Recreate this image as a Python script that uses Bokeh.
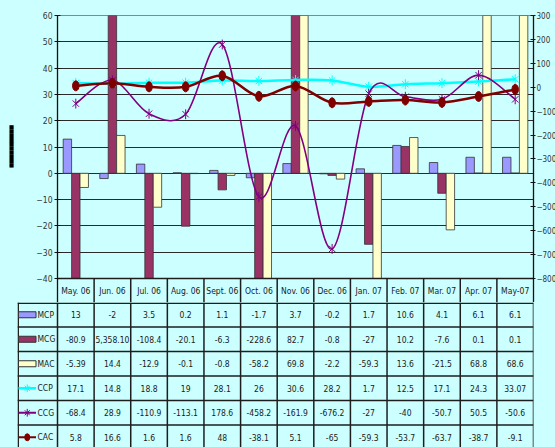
import numpy as np
from bokeh.plotting import figure
from bokeh.models import Range1d, LinearAxis, FixedTicker
from bokeh.layouts import column
from bokeh.embed import file_html
from bokeh.resources import INLINE
from bokeh.core.properties import value

# ---------------- data ----------------
categories = ["May. 06", "Jun. 06", "Jul. 06", "Aug. 06", "Sept. 06", "Oct. 06", "Nov. 06",
              "Dec. 06", "Jan. 07", "Feb. 07", "Mar. 07", "Apr. 07", "May-07"]
mcp = [13, -2, 3.5, 0.2, 1.1, -1.7, 3.7, -0.2, 1.7, 10.6, 4.1, 6.1, 6.1]
mcg = [-80.9, 5358.10, -108.4, -20.1, -6.3, -228.6, 82.7, -0.8, -27, 10.2, -7.6, 0.1, 0.1]
mac = [-5.39, 14.4, -12.9, -0.1, -0.8, -58.2, 69.8, -2.2, -59.3, 13.6, -21.5, 68.8, 68.6]
ccp = [17.1, 14.8, 18.8, 19, 28.1, 26, 30.6, 28.2, 1.7, 12.5, 17.1, 24.3, 33.07]
ccg = [-68.4, 28.9, -110.9, -113.1, 178.6, -458.2, -161.9, -676.2, -27, -40, -50.7, 50.5, -50.6]
cac = [5.8, 16.6, 1.6, 1.6, 48, -38.1, 5.1, -65, -59.3, -53.7, -63.7, -38.7, -9.1]
series_names = ["MCP", "MCG", "MAC", "CCP", "CCG", "CAC"]
left_ticks = list(range(-40, 61, 10))
right_ticks = list(range(-800, 301, 100))

# ---------------- style ----------------
BG = "#CCFFFF"
FONT = "DejaVu Sans Condensed"
C_MCP, C_MCG, C_MAC = "#9999FF", "#993366", "#FFFFCC"
C_CCP, C_CCG, C_CAC = "#00FFFF", "#800080", "#800000"
LC = "#1e1e1e"
n = len(categories)
xc = np.arange(n) + 0.5
BW = 0.23
COLW = 476 / n
PLOT_H = 263          # height of the value area
HDR = 24              # height of the category header row
L_PPU = PLOT_H / (left_ticks[-1] - left_ticks[0])
R_PPU = PLOT_H / (right_ticks[-1] - right_ticks[0])
LMIN = left_ticks[0] - HDR / L_PPU
RMIN = right_ticks[0] - HDR / R_PPU

p = figure(frame_width=476, frame_height=PLOT_H + HDR, x_range=Range1d(0, n),
           y_range=Range1d(LMIN, left_ticks[-1]),
           output_backend="svg", toolbar_location=None, x_axis_location=None,
           min_border_left=57, min_border_top=15, min_border_bottom=0, min_border_right=5,
           background_fill_color=BG, border_fill_color=BG, outline_line_color="#888888",
           frame_align=False)
p.extra_y_ranges = {"right": Range1d(RMIN, right_ticks[-1])}
p.xgrid.visible = False
p.ygrid.ticker = FixedTicker(ticks=left_ticks[1:-1])
p.ygrid.grid_line_color = "#2a2a2a"
p.ygrid.grid_line_width = 1

def style_axis(ax, size, out, standoff):
    ax.axis_line_color = "#111111"
    ax.axis_line_width = 1.3
    ax.major_tick_line_color = "#111111"
    ax.major_tick_in = 3
    ax.major_tick_out = out
    ax.minor_tick_line_color = None
    ax.major_label_text_font = FONT
    ax.major_label_text_font_size = size
    ax.major_label_text_color = "#333333"
    ax.major_label_standoff = standoff

p.yaxis.ticker = FixedTicker(ticks=left_ticks)
style_axis(p.yaxis[0], "8.5px", 3, 2)
# the dark vertical mark left of the value axis (rotated axis title)
p.yaxis.axis_label = "\u00a0" * 6 + "\u2580" * 10
p.yaxis.axis_label_text_font = "DejaVu Sans Mono"
p.yaxis.axis_label_text_font_size = "7px"
p.yaxis.axis_label_text_color = "black"
p.yaxis.axis_label_standoff = 15
rax = LinearAxis(y_range_name="right", ticker=FixedTicker(ticks=right_ticks))
style_axis(rax, "8px", 2, 1)
p.add_layout(rax, "right")

# bars
for vals, off, col in [(mcp, -BW, C_MCP), (mcg, 0, C_MCG), (mac, BW, C_MAC)]:
    p.vbar(x=xc + off, top=vals, bottom=0, width=BW, fill_color=col,
           line_color="#333333", line_width=0.8)

# smoothed lines (Catmull-Rom Bezier through the data points)
def smooth(ys):
    ys = np.asarray(ys, dtype=float)
    x0, y0, x1, y1, cx0, cy0, cx1, cy1 = [], [], [], [], [], [], [], []
    for i in range(n - 1):
        a = i - 1 if i > 0 else i
        d = i + 2 if i + 2 < n else i + 1
        x0.append(xc[i]); y0.append(ys[i]); x1.append(xc[i + 1]); y1.append(ys[i + 1])
        cx0.append(xc[i] + (xc[i + 1] - xc[a]) / 6); cy0.append(ys[i] + (ys[i + 1] - ys[a]) / 6)
        cx1.append(xc[i + 1] - (xc[d] - xc[i]) / 6); cy1.append(ys[i + 1] - (ys[d] - ys[i]) / 6)
    return dict(x0=x0, y0=y0, x1=x1, y1=y1, cx0=cx0, cy0=cy0, cx1=cx1, cy1=cy1)

def star(fig, x, y, col, size, **kw):
    fig.scatter(x=x, y=y, marker="x", size=size, line_color=col, line_width=1, **kw)
    fig.scatter(x=x, y=y, marker="dash", angle=np.pi / 2, size=size * 1.1, line_color=col, line_width=1, **kw)

p.bezier(**smooth(ccp), line_color=C_CCP, line_width=2.5, y_range_name="right")
star(p, xc, ccp, C_CCP, 9, y_range_name="right")
p.bezier(**smooth(ccg), line_color=C_CCG, line_width=1.6, y_range_name="right")
star(p, xc, ccg, C_CCG, 9, y_range_name="right")
p.bezier(**smooth(cac), line_color=C_CAC, line_width=2.5, y_range_name="right")
p.ellipse(x=xc, y=cac, width=6.5, height=10, width_units="screen", height_units="screen",
          fill_color=C_CAC, line_color=C_CAC, y_range_name="right")

# category header row (table head) below the value area
p.quad(left=[0], right=[n], bottom=[LMIN], top=[left_ticks[0]], fill_color=BG, line_color=None)
p.segment(x0=[0], y0=[left_ticks[0]], x1=[n], y1=[left_ticks[0]], line_color=LC, line_width=1.5)
p.segment(x0=list(range(1, n)), y0=[left_ticks[0]] * (n - 1), x1=list(range(1, n)), y1=[LMIN] * (n - 1),
          line_color=LC, line_width=1.5)
TXT = dict(text_align="center", text_baseline="middle", text_font=value(FONT),
           text_font_size="8.5px", text_color="#1a1a1a")
p.text(x=xc, y=[left_ticks[0] - HDR / 2 / L_PPU] * n, text=categories, **TXT)

# ---------------- data table ----------------
KEYW = 40 / COLW
TH = 145
RH = 24.5
t = figure(frame_width=516, frame_height=TH, x_range=Range1d(-KEYW, n), y_range=Range1d(TH, 0),
           output_backend="svg", toolbar_location=None, x_axis_location=None, y_axis_location=None,
           min_border_left=17, min_border_right=22, min_border_top=0, min_border_bottom=0,
           background_fill_color=BG, border_fill_color=BG, outline_line_color=None,
           frame_align=False)
t.grid.visible = False

def fmt(v):
    if abs(v) >= 1000:
        return f"{v:,.2f}"
    return str(v)

all_series = [mcp, mcg, mac, ccp, ccg, cac]
row_c = [RH * r + RH / 2 for r in range(6)]
for r, vals in enumerate(all_series):
    t.text(x=xc, y=[row_c[r]] * n, text=[fmt(v) for v in vals], **TXT)

# grid lines of table
hy = [0.75] + [RH * k for k in range(1, 6)]
t.segment(x0=[-KEYW] * 6, y0=hy, x1=[n] * 6, y1=hy, line_color=LC, line_width=1.5)
t.segment(x0=list(range(n + 1)), y0=[0] * (n + 1), x1=list(range(n + 1)), y1=[TH] * (n + 1),
          line_color=LC, line_width=1.5)
t.segment(x0=[-KEYW + 0.02], y0=[0], x1=[-KEYW + 0.02], y1=[TH], line_color=LC, line_width=1.5)

# legend keys
kx0, kx1 = (18 - 57) / COLW, (35.5 - 57) / COLW
kxm = (kx0 + kx1) / 2
for r, col in enumerate([C_MCP, C_MCG, C_MAC]):
    t.rect(x=[kxm], y=[row_c[r]], width=kx1 - kx0, height=6, fill_color=col,
           line_color="#333333", line_width=1)
t.segment(x0=[kx0], y0=[row_c[3]], x1=[kx1], y1=[row_c[3]], line_color=C_CCP, line_width=2.5)
star(t, [kxm], [row_c[3]], C_CCP, 7)
t.segment(x0=[kx0], y0=[row_c[4]], x1=[kx1], y1=[row_c[4]], line_color=C_CCG, line_width=2)
star(t, [kxm], [row_c[4]], C_CCG, 7)
t.segment(x0=[kx0], y0=[row_c[5]], x1=[kx1], y1=[row_c[5]], line_color=C_CAC, line_width=2)
t.ellipse(x=[kxm], y=[row_c[5]], width=5, height=7, width_units="screen", height_units="screen",
          fill_color=C_CAC, line_color=C_CAC)
t.text(x=[(37 - 57) / COLW] * 6, y=row_c, text=series_names,
       **{**TXT, "text_align": "left"})

layout = column(p, t, spacing=0)
tpl = "{% block postamble %}<style>html, body { background-color: #CCFFFF; }</style>{% endblock %}"
open("out.html", "w").write(file_html(layout, INLINE, template=tpl))
